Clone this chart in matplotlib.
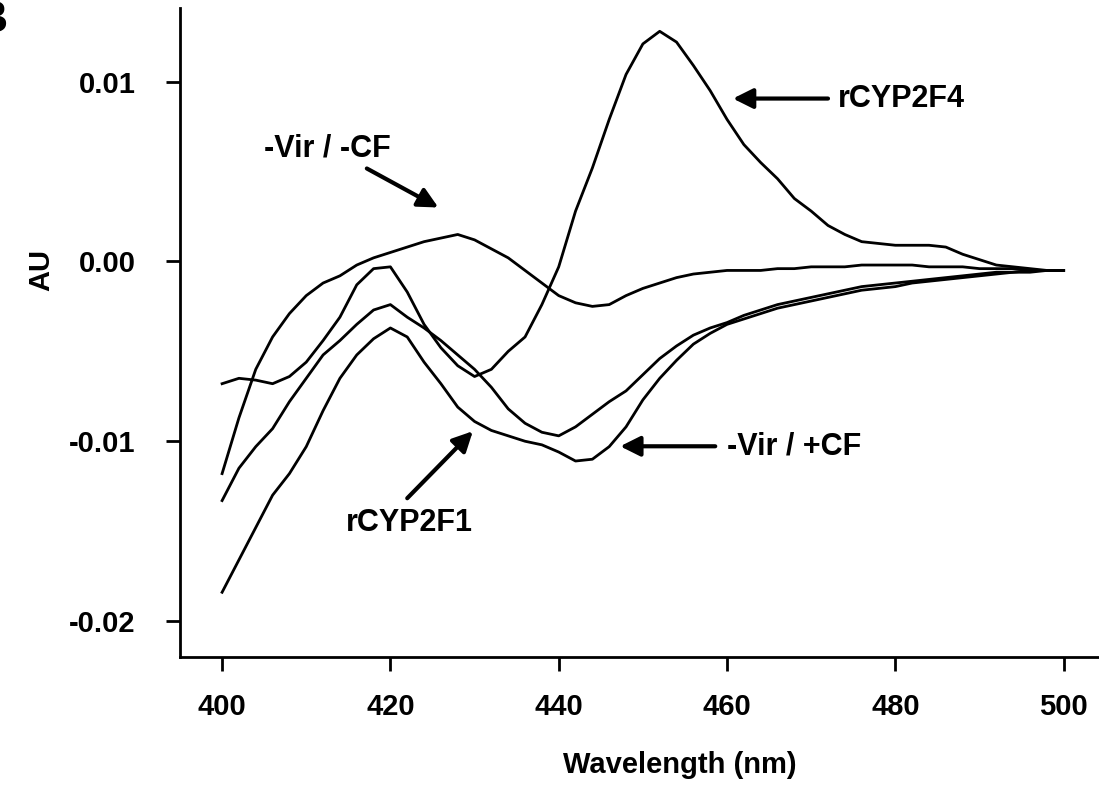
import matplotlib
matplotlib.use("Agg")
import matplotlib.pyplot as plt
import numpy as np

plt.rcParams['font.family'] = ['Liberation Sans', 'DejaVu Sans']
plt.rcParams['font.weight'] = 'bold'
plt.rcParams['axes.unicode_minus'] = False

# wavelength grid (nm)
wl = list(range(400, 502, 2))

# -Vir / -CF
vir_cf_neg = [-0.0118, -0.0087, -0.0060, -0.0042, -0.0029, -0.0019, -0.0012, -0.0008, -0.0002, 0.0002,
              0.0005, 0.0008, 0.0011, 0.0013, 0.0015, 0.0012, 0.0007, 0.0002, -0.0005, -0.0012,
              -0.0019, -0.0023, -0.0025, -0.0024, -0.0019, -0.0015, -0.0012, -0.0009, -0.0007, -0.0006,
              -0.0005, -0.0005, -0.0005, -0.0004, -0.0004, -0.0003, -0.0003, -0.0003, -0.0002, -0.0002,
              -0.0002, -0.0002, -0.0003, -0.0003, -0.0003, -0.0004, -0.0004, -0.0004, -0.0005, -0.0005,
              -0.0005]
# rCYP2F4
rcyp2f4 = [-0.0068, -0.0065, -0.0066, -0.0068, -0.0064, -0.0056, -0.0044, -0.0031, -0.0013, -0.0004,
           -0.0003, -0.0017, -0.0035, -0.0048, -0.0058, -0.0064, -0.0060, -0.0050, -0.0042, -0.0024,
           -0.0003, 0.0028, 0.0052, 0.0079, 0.0104, 0.0121, 0.0128, 0.0122, 0.0109, 0.0095,
           0.0079, 0.0065, 0.0055, 0.0046, 0.0035, 0.0028, 0.0020, 0.0015, 0.0011, 0.0010,
           0.0009, 0.0009, 0.0009, 0.0008, 0.0004, 0.0001, -0.0002, -0.0003, -0.0004, -0.0005,
           -0.0005]
# rCYP2F1
rcyp2f1 = [-0.0133, -0.0115, -0.0103, -0.0093, -0.0078, -0.0065, -0.0052, -0.0044, -0.0035, -0.0027,
           -0.0024, -0.0031, -0.0037, -0.0044, -0.0052, -0.0060, -0.0070, -0.0082, -0.0090, -0.0095,
           -0.0097, -0.0092, -0.0085, -0.0078, -0.0072, -0.0063, -0.0054, -0.0047, -0.0041, -0.0037,
           -0.0034, -0.0030, -0.0027, -0.0024, -0.0022, -0.0020, -0.0018, -0.0016, -0.0014, -0.0013,
           -0.0012, -0.0011, -0.0010, -0.0009, -0.0008, -0.0007, -0.0006, -0.0006, -0.0005, -0.0005,
           -0.0005]
# -Vir / +CF
vir_cf_pos = [-0.0184, -0.0166, -0.0148, -0.0130, -0.0118, -0.0103, -0.0083, -0.0065, -0.0052, -0.0043,
              -0.0037, -0.0042, -0.0056, -0.0068, -0.0081, -0.0089, -0.0094, -0.0097, -0.0100, -0.0102,
              -0.0106, -0.0111, -0.0110, -0.0103, -0.0092, -0.0077, -0.0065, -0.0055, -0.0046, -0.0040,
              -0.0035, -0.0032, -0.0029, -0.0026, -0.0024, -0.0022, -0.0020, -0.0018, -0.0016, -0.0015,
              -0.0014, -0.0012, -0.0011, -0.0010, -0.0009, -0.0008, -0.0007, -0.0006, -0.0006, -0.0005,
              -0.0005]

fig = plt.figure(figsize=(10.99, 7.93), dpi=100)
ax = fig.add_axes([0.1638, 0.1715, 0.8362, 0.8185])

for s in [vir_cf_neg, rcyp2f4, rcyp2f1, vir_cf_pos]:
    ax.plot(wl, s, color='black', lw=2.0)

ax.set_xlim(395.0, 504.2)
ax.set_ylim(-0.0220, 0.0141)
ax.set_xticks([400, 420, 440, 460, 480, 500])
ax.set_yticks([-0.02, -0.01, 0.0, 0.01])
ax.set_yticklabels(['-0.02', '-0.01', '0.00', '0.01'])

ax.spines['top'].set_visible(False)
ax.spines['right'].set_visible(False)
ax.spines['left'].set_linewidth(2)
ax.spines['bottom'].set_linewidth(2)
ax.tick_params(direction='out', length=10, width=2, labelsize=21)
ax.tick_params(axis='y', pad=22)
ax.tick_params(axis='x', pad=16)

ax.set_xlabel('Wavelength (nm)', fontsize=21, fontweight='bold')
ax.set_ylabel('AU', fontsize=21, fontweight='bold')
ax.xaxis.set_label_coords(0.544, -0.145)
ax.yaxis.set_label_coords(-0.136, 0.596)

arrow = dict(arrowstyle='-|>', color='black', lw=3, mutation_scale=30, shrinkA=0, shrinkB=0)
ax.annotate('', xy=(425.7, 0.0030), xytext=(417.2, 0.00517), arrowprops=arrow)
ax.annotate('', xy=(460.7, 0.00906), xytext=(472.0, 0.00906), arrowprops=arrow)
ax.annotate('', xy=(447.3, -0.01028), xytext=(458.6, -0.01028), arrowprops=arrow)
ax.annotate('', xy=(429.8, -0.00944), xytext=(422.0, -0.01317), arrowprops=arrow)

ax.text(412.5, 0.0063, '-Vir / -CF', fontsize=22, fontweight='bold', ha='center', va='center')
ax.text(473.2, 0.00906, 'rCYP2F4', fontsize=22, fontweight='bold', ha='left', va='center')
ax.text(460.0, -0.01028, '-Vir / +CF', fontsize=22, fontweight='bold', ha='left', va='center')
ax.text(422.3, -0.01456, 'rCYP2F1', fontsize=22, fontweight='bold', ha='center', va='center')

fig.text(-0.022, 1.0, 'B', fontsize=32, fontweight='bold', ha='left', va='top')

fig.savefig('out.png', dpi=100)
